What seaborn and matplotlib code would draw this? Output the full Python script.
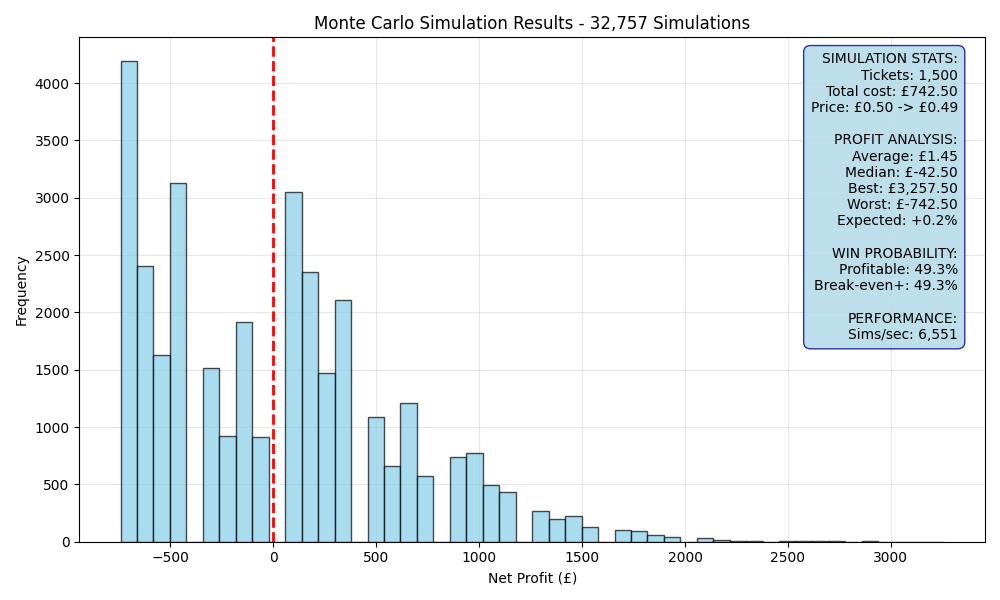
import numpy as np
import matplotlib
matplotlib.use("Agg")
import matplotlib.pyplot as plt
import seaborn as sns
import pandas as pd

# Histogram data: 50 bins of £80 from worst (-742.50) to best (3,257.50)
profit_min = -742.5
profit_max = 3257.5
n_bins = 50
bin_counts = [
    4190, 2404, 1629, 3127, 0, 1516, 923, 1916, 915, 0,
    3049, 2352, 1472, 2108, 0, 1089, 662, 1211, 575, 0,
    740, 775, 497, 435, 0, 270, 200, 226, 130, 0,
    105, 95, 60, 45, 0, 35, 15, 5, 5, 0,
    3, 3, 3, 3, 0, 3, 1, 1, 1, 1,
]

title = "Monte Carlo Simulation Results - 32,757 Simulations"
stats_lines = [
    "SIMULATION STATS:",
    "Tickets: 1,500",
    "Total cost: £742.50",
    "Price: £0.50 -> £0.49",
    "",
    "PROFIT ANALYSIS:",
    "Average: £1.45",
    "Median: £-42.50",
    "Best: £3,257.50",
    "Worst: £-742.50",
    "Expected: +0.2%",
    "",
    "WIN PROBABILITY:",
    "Profitable: 49.3%",
    "Break-even+: 49.3%",
    "",
    "PERFORMANCE:",
    "Sims/sec: 6,551",
]

edges = np.linspace(profit_min, profit_max, n_bins + 1)
centers = (edges[:-1] + edges[1:]) / 2
df = pd.DataFrame({"profit": centers, "count": bin_counts})

fig, ax = plt.subplots(figsize=(10, 6), dpi=100)
sns.histplot(data=df, x="profit", weights="count", bins=edges.tolist(), ax=ax,
             color="skyblue", alpha=0.7, edgecolor=(0, 0, 0, 0.7), linewidth=1)
ax.axvline(0, color="red", linestyle="--", linewidth=2)
ax.set_title(title, fontsize=12)
ax.set_xlabel("Net Profit (£)")
ax.set_ylabel("Frequency")
ax.grid(True, alpha=0.3)
ax.set_axisbelow(True)

ax.text(0.97, 0.97, "\n".join(stats_lines), transform=ax.transAxes,
        ha="right", va="top", fontsize=10,
        bbox=dict(boxstyle="round,pad=0.5", facecolor="lightblue", alpha=0.8,
                  edgecolor="darkblue"))

plt.tight_layout()
fig.savefig("out.png", dpi=100)
